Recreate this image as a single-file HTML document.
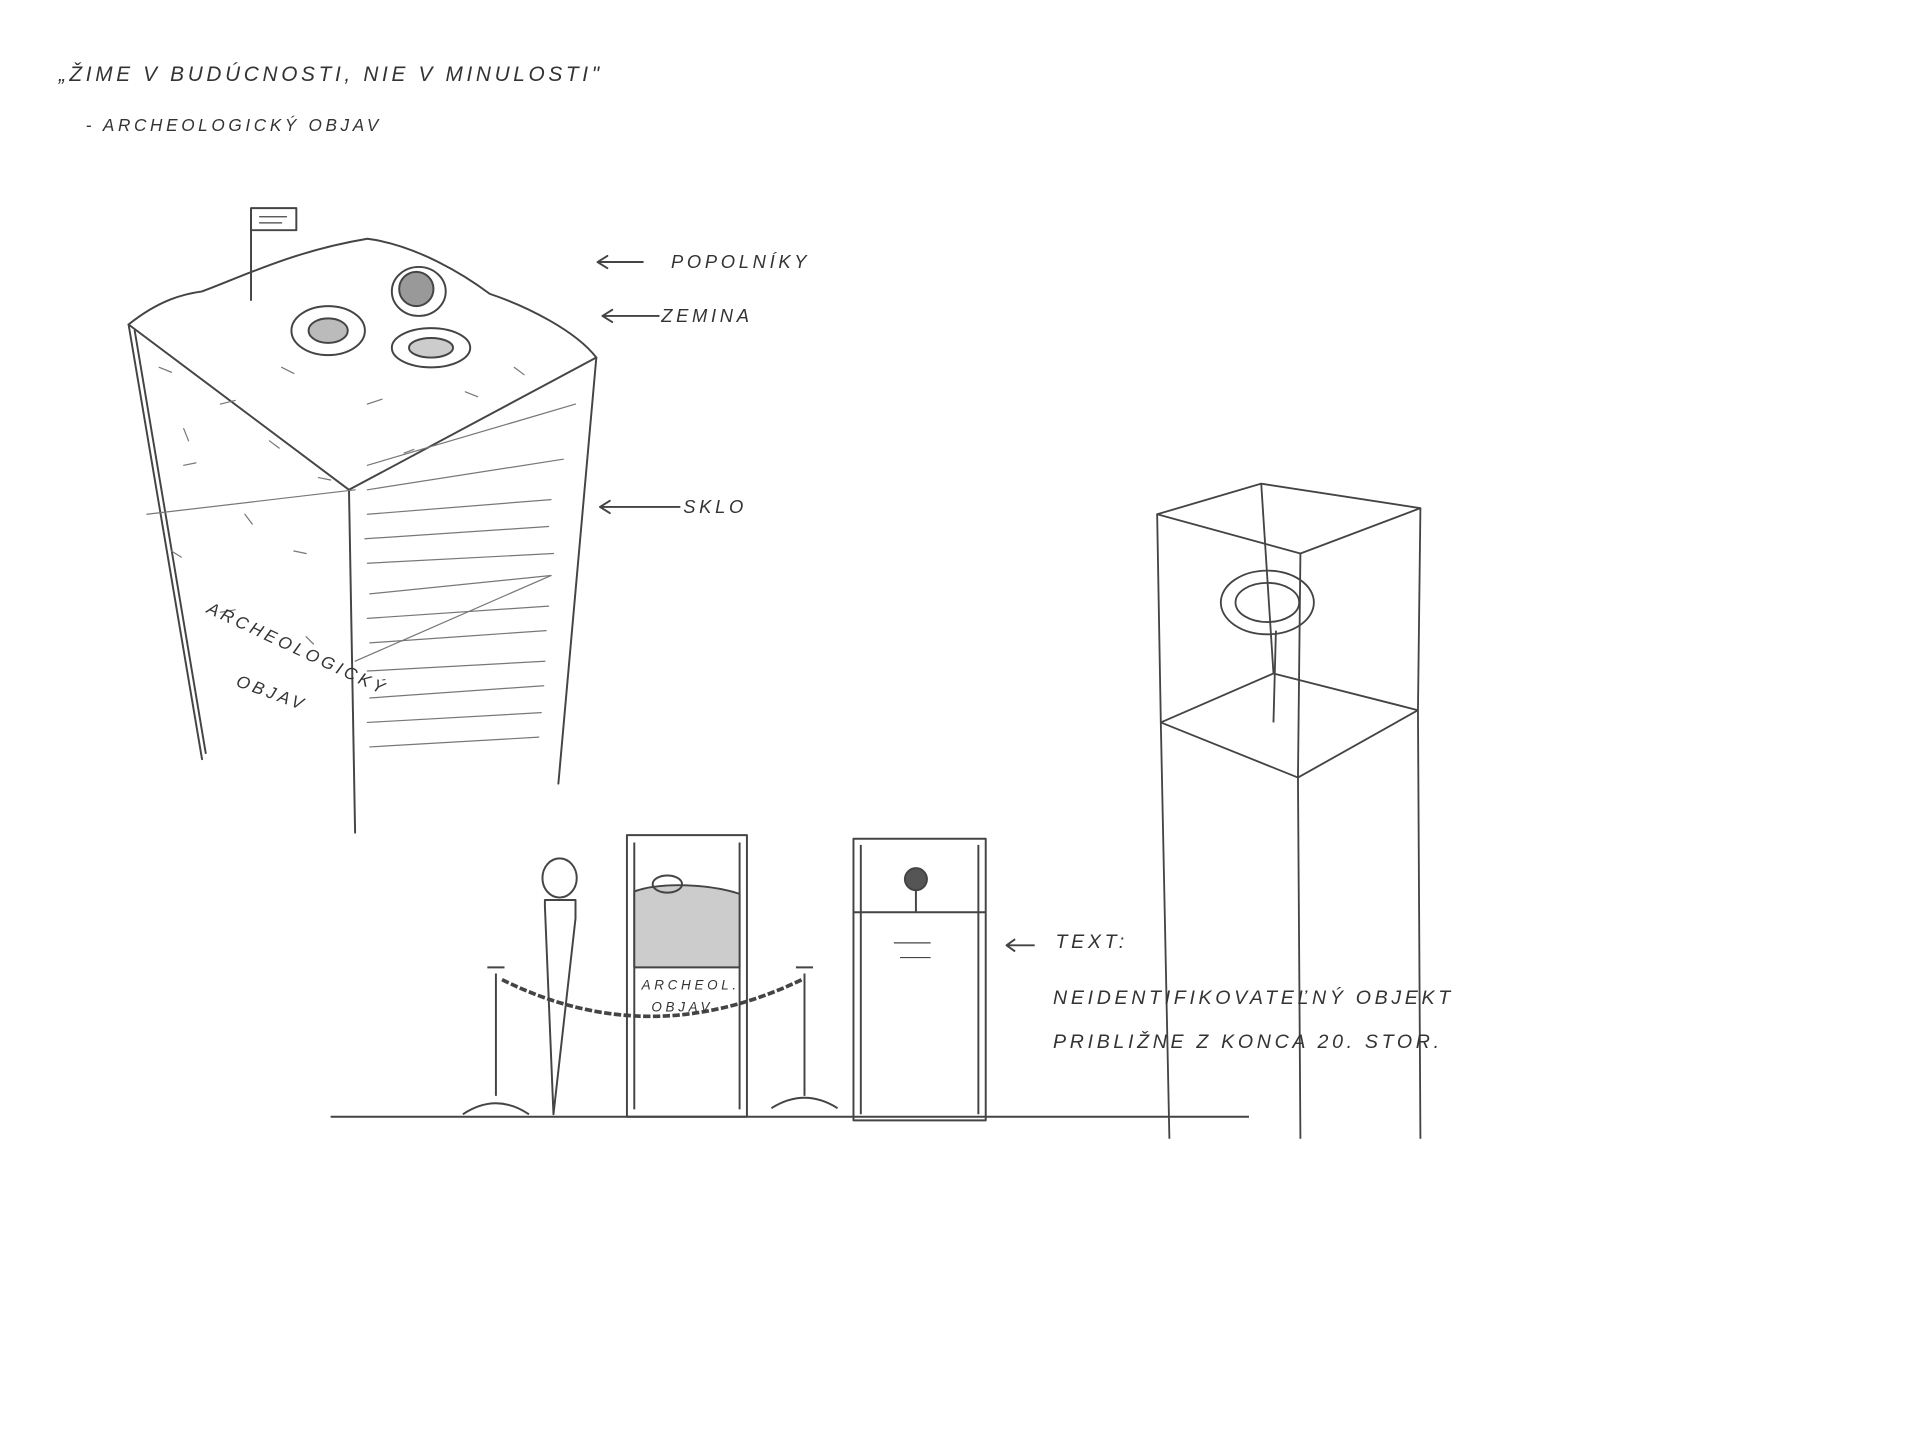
<!DOCTYPE html>
<html><head><meta charset="utf-8"><style>
html,body{margin:0;padding:0;background:#fff;width:1920px;height:1440px;overflow:hidden}
svg{display:block}
text{font-family:"Liberation Sans",sans-serif;fill:#333;font-style:italic;letter-spacing:3px}
</style></head><body>
<svg width="1920" height="1440" viewBox="0 0 1568 1176" xmlns="http://www.w3.org/2000/svg">
<rect width="1568" height="1176" fill="#fff"/>
<g stroke="#444" fill="none" stroke-width="1.6" stroke-linecap="round" stroke-linejoin="round">
<!-- title -->
</g>
<text x="48" y="66" font-size="17">„ŽIME V BUDÚCNOSTI, NIE V MINULOSTI"</text>
<text x="70" y="107" font-size="14">- ARCHEOLOGICKÝ OBJAV</text>

<!-- left pillar -->
<g stroke="#444" fill="none" stroke-width="1.6" stroke-linecap="round" stroke-linejoin="round">
<path d="M105 265 L285 400 L487 292"/>
<path d="M105 265 C130 245 150 240 165 238 C200 225 240 205 300 195 C340 200 380 225 400 240 C430 250 470 270 487 292"/>
<path d="M105 265 L165 620"/>
<path d="M110 270 L168 615"/>
<path d="M285 400 L290 680"/>
<path d="M487 292 L456 640"/>
<path d="M205 245 L205 175"/>
<rect x="205" y="170" width="37" height="18"/>
<path d="M212 177 h22 M212 182 h18" stroke-width="1"/>
<ellipse cx="268" cy="270" rx="30" ry="20"/><ellipse cx="268" cy="270" rx="16" ry="10" fill="#bbb"/>
<ellipse cx="352" cy="284" rx="32" ry="16"/><ellipse cx="352" cy="284" rx="18" ry="8" fill="#ccc"/>
<ellipse cx="342" cy="238" rx="22" ry="20"/><ellipse cx="340" cy="236" rx="14" ry="14" fill="#999"/>
<g stroke="#777" stroke-width="1">
<path d="M130 300 l10 4 M180 330 l12 -3 M220 360 l8 6 M150 380 l10 -2 M200 420 l6 8 M240 450 l10 2 M140 450 l8 5 M180 500 l12 -2 M250 520 l6 6 M150 350 l4 10 M230 300 l10 5 M300 330 l12 -4 M380 320 l10 4 M330 370 l8 -3 M420 300 l8 6 M260 390 l10 2"/>
<path d="M300 420 L450 408 M298 440 L448 430 M300 460 L452 452 M302 485 L450 470 M300 505 L448 495 M302 525 L446 515 M300 548 L445 540 M302 570 L444 560 M300 590 L442 582 M302 610 L440 602 M300 380 L470 330 M300 400 L460 375"/>
<path d="M290 540 L450 470 M120 420 L290 400"/>
</g>
<path d="M525 214 H488 l8 -5 M488 214 l8 5"/>
<path d="M538 258 H492 l8 -5 M492 258 l8 5"/>
<path d="M555 414 H490 l8 -5 M490 414 l8 5"/>
</g>
<text x="548" y="219" font-size="15">POPOLNÍKY</text>
<text x="540" y="263" font-size="15">ZEMINA</text>
<text x="558" y="419" font-size="15">SKLO</text>
<text x="168" y="500" font-size="14" transform="rotate(25 168 500)">ARCHEOLOGICKÝ</text>
<text x="192" y="560" font-size="14" transform="rotate(20 192 560)">OBJAV</text>

<!-- right vitrine -->
<g stroke="#444" fill="none" stroke-width="1.5" stroke-linejoin="round">
<path d="M945 420 L1030 395 L1160 415 L1062 452 Z"/>
<path d="M945 420 L948 590 M1062 452 L1060 635 M1160 415 L1158 580 M1030 395 L1040 550"/>
<path d="M948 590 L1060 635 L1158 580 L1040 550 Z"/>
<path d="M948 590 L955 930 M1060 635 L1062 930 M1158 580 L1160 930"/>
<ellipse cx="1035" cy="492" rx="38" ry="26"/><ellipse cx="1035" cy="492" rx="26" ry="16"/>
<path d="M1042 515 L1040 590"/>
</g>

<!-- bottom scene -->
<g stroke="#444" fill="none" stroke-width="1.6" stroke-linejoin="round">
<path d="M270 912 L1020 912"/>
<ellipse cx="457" cy="717" rx="14" ry="16"/>
<path d="M445 735 L470 735 L470 750 L452 910 L445 740 Z"/>
<path d="M405 795 L405 895 M378 910 Q405 892 432 910 M398 790 h14"/>
<path d="M657 795 L657 895 M630 905 Q657 888 684 905 M650 790 h14"/>
<path d="M410 800 Q530 860 655 800" stroke-dasharray="6 2" stroke-width="3"/>
<rect x="512" y="682" width="98" height="230"/>
<path d="M518 688 V906 M604 688 V906"/>
<path d="M518 728 C540 720 580 722 604 730 L604 790 L518 790 Z" fill="#ccc"/>
<ellipse cx="545" cy="722" rx="12" ry="7"/>
<rect x="697" y="685" width="108" height="230"/>
<path d="M697 745 L805 745 M703 690 V910 M799 690 V910"/>
<circle cx="748" cy="718" r="9" fill="#555"/><path d="M748 727 V745"/>
<path d="M730 770 h30 M735 782 h25" stroke-width="1"/>
<path d="M845 772 H822 l7 -5 M822 772 l7 5"/>
</g>
<text x="524" y="808" font-size="11">ARCHEOL.</text>
<text x="532" y="826" font-size="11">OBJAV</text>
<text x="862" y="774" font-size="16">TEXT:</text>
<text x="860" y="820" font-size="16">NEIDENTIFIKOVATEĽNÝ OBJEKT</text>
<text x="860" y="856" font-size="16">PRIBLIŽNE Z KONCA 20. STOR.</text>
</svg>
</body></html>
